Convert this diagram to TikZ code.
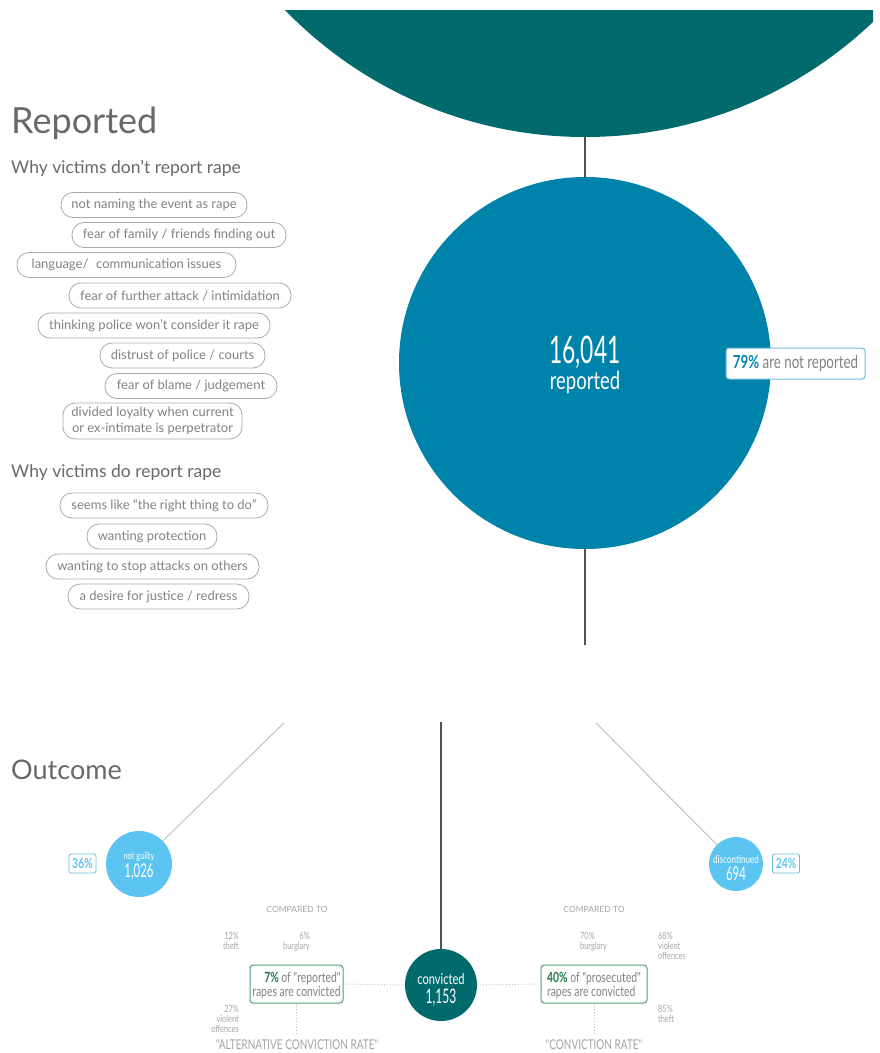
\documentclass[tikz,border=0pt]{standalone}
\usepackage{fontspec}
\setmainfont{Lato}
\newfontfamily\headfont{Lato}
\newfontfamily\condfont[FakeStretch=0.74]{Lato}
\newfontfamily\numfont[FakeStretch=0.6]{Lato}
\definecolor{darkteal}{RGB}{0,106,108}
\definecolor{repblue}{RGB}{0,131,170}
\definecolor{lightblue}{RGB}{92,196,240}
\definecolor{pboxblue}{RGB}{110,190,220}
\definecolor{boxgreen}{RGB}{80,160,110}
\definecolor{txtgreen}{RGB}{30,120,70}
\definecolor{pillgray}{RGB}{170,170,170}
\definecolor{pilltext}{RGB}{130,130,130}
\definecolor{headgray}{RGB}{105,105,105}
\definecolor{smallgray}{RGB}{165,165,165}
\definecolor{stemgray}{RGB}{80,80,80}
\definecolor{linegray}{RGB}{190,190,190}
\newcommand{\fs}[1]{\fontsize{#1}{#1}\selectfont}
\tikzset{
  pill/.style={draw=pillgray, line width=0.8pt, rounded corners=12pt, minimum height=25pt,
    inner xsep=0pt, inner ysep=0pt, text=pilltext, font=\fs{13}},
  heading/.style={anchor=base west, inner sep=0pt, text=headgray},
  stemline/.style={draw=stemgray, line width=1.8pt},
  thinline/.style={draw=linegray, line width=0.9pt},
  dotline/.style={draw=linegray, line width=0.9pt, dotted},
  pbox/.style={draw=pboxblue, line width=0.8pt, rounded corners=1.5pt, text=lightblue,
    minimum width=27pt, minimum height=19pt, inner sep=0pt, font=\condfont\bfseries\fs{14}},
  gbox/.style={draw=boxgreen, line width=1pt, rounded corners=3pt, minimum height=38pt,
    inner sep=0pt, text=pilltext, font=\condfont\fs{14}, text depth=0pt},
  small/.style={inner sep=0pt, text=smallgray, font=\condfont\fs{10}},
  capslab/.style={inner sep=0pt, text=smallgray, font=\condfont\fs{13.5}},
  circtext/.style={inner sep=0pt, text=white}
}
\begin{document}
\begin{tikzpicture}[x=1pt,y=-1pt]
\useasboundingbox (0,0) rectangle (879,1053);
\fill[white] (0,0) rectangle (879,1053);
% top circle
\begin{scope}
  \clip (0,10) rectangle (873,300);
  \node[circle, fill=darkteal, minimum size=836pt, inner sep=0pt] (top) at (585,-281) {};
\end{scope}
% reported circle
\node[circle, fill=repblue, minimum size=372pt, inner sep=0pt] (rep) at (585,363) {};
\node[circtext, font=\numfont\fs{38}] (repnum) at (585,352) {16,041};
\node[circtext, font=\condfont\fs{25}] (replab) at (585,382) {reported};
\draw[stemline] (top.south) -- (rep.north);
\coordinate (repend) at (585,645);
\draw[stemline] (rep.south) -- (repend);
% not reported box
\node[draw=pboxblue, line width=1pt, rounded corners=3pt, fill=white, minimum width=139pt,
  minimum height=31pt, inner sep=0pt, font=\condfont\fs{18}, text=pilltext] (notrep) at (795.5,363.5)
  {\textcolor{repblue}{\bfseries 79\%} are not reported};
% headings
\node[heading, font=\headfont\fs{36}] (h1) at (11,133) {Reported};
\node[heading, font=\headfont\fs{17.5}] (h2) at (11,173) {Why victims don’t report rape};
\node[heading, font=\headfont\fs{17.5}] (h3) at (11,477) {Why victims do report rape};
\node[heading, font=\headfont\fs{27}] (h4) at (11,779) {Outcome};
% pills
\node[pill, minimum width=186pt] (p1) at (154,205) {not naming the event as rape};
\node[pill, minimum width=214pt] (p2) at (179,235) {fear of family / friends finding out};
\node[pill, minimum width=219pt] (p3) at (126.5,265) {language/\hspace{0.6em}communication issues};
\node[pill, minimum width=222pt] (p4) at (180,295.5) {fear of further attack / intimidation};
\node[pill, minimum width=232pt] (p5) at (154,325.5) {thinking police won’t consider it rape};
\node[pill, minimum width=165pt] (p6) at (182.5,355.5) {distrust of police / courts};
\node[pill, minimum width=172pt] (p7) at (191,386) {fear of blame / judgement};
\node[pill, minimum width=179pt, minimum height=36pt, align=center, font=\fontsize{13}{16}\selectfont]
  (p8) at (152.5,421) {divided loyalty when current\\or ex-intimate is perpetrator};
\node[pill, minimum width=208pt] (p9) at (164,505.5) {seems like “the right thing to do”};
\node[pill, minimum width=130pt] (p10) at (152,536.5) {wanting protection};
\node[pill, minimum width=213pt] (p11) at (152.5,566.5) {wanting to stop attacks on others};
\node[pill, minimum width=181pt] (p12) at (158.5,596.5) {a desire for justice / redress};
% outcome circles
\node[circle, fill=lightblue, minimum size=66pt, inner sep=0pt] (ng) at (139,864) {};
\node[circtext, font=\condfont\fs{10}] (nglab) at (139,857) {not guilty};
\node[circtext, font=\numfont\fs{19}] (ngnum) at (139,872) {1,026};
\node[circle, fill=lightblue, minimum size=54pt, inner sep=0pt] (dc) at (736,864) {};
\node[circtext, font=\condfont\fs{11}] (dclab) at (736,859) {discontinued};
\node[circtext, font=\numfont\fs{19}] (dcnum) at (736,874) {694};
\node[circle, fill=darkteal, minimum size=72pt, inner sep=0pt] (conv) at (441,985) {};
\node[circtext, font=\condfont\fs{15}] (convlab) at (441,979) {convicted};
\node[circtext, font=\numfont\fs{20}] (convnum) at (441,998) {1,153};
\coordinate (ngtop) at (284,723);
\coordinate (dctop) at (596,723);
\coordinate (ctop) at (441,722);
\draw[thinline] (ngtop) -- (ng);
\draw[thinline] (dctop) -- (dc);
\draw[stemline] (ctop) -- (conv.north);
\node[pbox] (p36) at (82.5,863.5) {36\%};
\node[pbox] (p24) at (786,863.5) {24\%};
% conviction boxes
\node[gbox, minimum width=93pt, align=right] (altbox) at (296.5,984)
  {\textcolor{txtgreen}{\bfseries 7\%} of "reported"\\rapes are convicted};
\node[gbox, minimum width=106pt, align=left] (crbox) at (594,984)
  {\textcolor{txtgreen}{\bfseries 40\%} of "prosecuted"\\rapes are convicted};
\draw[dotline] (altbox.east) -- (conv.west);
\draw[dotline] (conv.east) -- (crbox.west);
\node[capslab] (altlab) at (297,1045) {"ALTERNATIVE CONVICTION RATE"};
\node[capslab] (crlab) at (594,1045) {"CONVICTION RATE"};
\coordinate (altdot) at (296.5,1035);
\coordinate (crdot) at (594,1035);
\draw[dotline] (altbox.south) -- (altdot);
\draw[dotline] (crbox.south) -- (crdot);
% compared to
\node[small, font=\fs{8.5}] (cmp1) at (297,909.5) {COMPARED TO};
\node[small, font=\fs{8.5}] (cmp2) at (594,909.5) {COMPARED TO};
\node[small, anchor=north east, align=right] (s1) at (239,932) {12\%\\theft};
\node[small, anchor=north east, align=right] (s2) at (310,932) {6\%\\burglary};
\node[small, anchor=north east, align=right] (s3) at (239,1005) {27\%\\violent\\offences};
\node[small, anchor=north west, align=left] (s4) at (580,932) {70\%\\burglary};
\node[small, anchor=north west, align=left] (s5) at (658,932) {68\%\\violent\\offences};
\node[small, anchor=north west, align=left] (s6) at (658,1005) {85\%\\theft};
\end{tikzpicture}
\end{document}
